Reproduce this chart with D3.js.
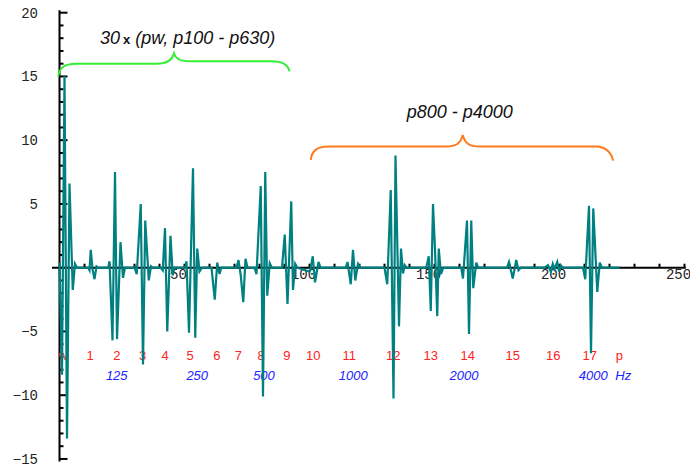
<!DOCTYPE html>
<html>
<head>
<meta charset="utf-8">
<script src="https://cdn.jsdelivr.net/npm/d3@7"></script>
<style>
  body { margin: 0; background: #fff; }
  svg { display: block; }
</style>
</head>
<body>
<div id="main"></div>
<script>
// axis labels
const yTickValues = [-15, -10, -5, 5, 10, 15, 20];
const xTickValues = [50, 100, 150, 200, 250];

// band numbers (red) and centre frequencies (blue), placed at x in sample units
const bandNames = ["w", "1", "2", "3", "4", "5", "6", "7", "8", "9", "10", "11", "12", "13", "14", "15", "16", "17", "p"];
const bandPos = [1.5, 12.2, 22.9, 33.2, 42.2, 52.2, 62.9, 71.5, 80.6, 90.9, 101.5, 115.9, 133.5, 148.5, 163.3, 181.3, 197.5, 212.1, 223.9];
const freqNames = ["125", "250", "500", "1000", "2000", "4000", "Hz"];
const freqPos = [22.9, 55.1, 81.8, 117.5, 161.8, 213.5, 225.5];

// the signal as [sample, value]
const signal = [
  [0, 0.4], [1, -8.4], [2, 15.1], [3, -13.4], [4, 6.6], [5.3, -1.75], [6.2, 0.3], [7, 0],
  [11.5, 0], [12, -0.2], [12.5, 1.4], [13.2, -0.1], [14, -0.9], [14.8, 0.1], [15.5, 0],
  [19.5, 0], [20, 0.5], [21.2, -5.7], [22.2, 7.5], [23, -5.6], [24.4, 2.0], [25.4, -0.8], [26.2, 0],
  [30, 0], [30.9, -0.5], [32.5, 5.0], [33.4, -7.6], [34.3, 3.7], [35.7, -1.0], [36.6, 0.1], [37.2, 0],
  [40.5, 0], [41.3, -0.2], [42.2, 3.1], [43.1, -5.0], [44.4, 2.5], [45.3, -0.6], [46, 0],
  [50.3, 0], [50.8, 0.5], [51.8, -5.1], [53.4, 7.8], [54.3, -5.5], [55.1, 1.5], [56, -0.3], [57, 0],
  [60.8, 0], [62.1, -2.5], [63.1, 0.4], [64, -0.5], [64.7, 0],
  [70.8, 0], [71.6, 0.6], [72.5, -0.6], [73.5, -2.7], [74.4, 0.7], [75.2, 0],
  [78, 0], [78.8, -0.5], [80.5, 6.4], [81.4, -10.1], [82.3, 7.5], [83.1, -2.2], [84.1, 0.35], [85, 0],
  [89, 0], [90.1, 2.6], [91.2, -2.85], [92.7, 5.2], [93.4, -1.75], [94.3, 0.3], [95.1, 0],
  [100, -0.3], [100.5, 0], [101.3, 0.9], [102.2, -1.15], [103.6, 0.45], [104.4, 0],
  [114.5, 0], [115.2, 0.45], [116.5, -1.3], [117.4, 1.4], [118.3, -1.0], [119.4, 0.3], [120.3, 0],
  [130, 0], [131.1, -1.3], [132.5, 6.1], [133.6, -10.25], [134.4, 8.8], [135.8, -4.6], [136.6, 1.5], [137.4, -0.45], [138.1, 0.2], [138.8, 0],
  [146.7, 0], [147.7, 0.9], [148.5, -3.4], [149.4, 5.0], [150.2, 1.4], [151.1, -3.8], [151.7, 1.5], [152.6, -0.5], [153.5, 0],
  [160.7, 0], [161.4, -0.85], [163, 3.7], [163.8, -5.2], [164.7, 3.7], [165.5, -1.6], [166.7, 0.4], [167.5, 0],
  [179, 0], [179.8, 0.45], [181.3, -0.85], [182.7, 0.6], [183.6, -0.2], [184.5, 0],
  [194, 0], [195.4, 0.2], [196.5, -0.3], [197.3, 0.3], [198, -0.1], [199.1, 0.45], [199.8, -0.3], [200.5, 0.2], [201.4, 0],
  [209.4, 0], [210.3, -0.9], [211.8, 4.85], [212.6, -6.7], [213.5, 4.65], [215.1, -1.9], [216.1, 0.4], [217, 0],
  [224, 0]
];

// brace annotations (sample units / values)
const braceLow = { text: "p100 - p630", x1: -0.5, xm: 45.8, x2: 92, e1: 15.0, b1: 16.0, tip: 16.8, b2: 16.2, e2: 15.4, color: "#33ee33" };
const braceHigh = { text: "p800 - p4000", x1: 100.5, xm: 161.3, x2: 221.5, e1: 8.45, b1: 9.5, tip: 10.4, b2: 9.5, e2: 8.4, color: "#ff7a1e" };

class Spectrum {
  constructor(config) {
    this.config = config;
    this.svg = d3.select(config.div).append("svg")
      .attr("width", config.width)
      .attr("height", config.height);

    this.xScale = d3.scaleLinear().domain([0, 250]).range([59.5, 684.5]);
    this.yScale = d3.scaleLinear().domain([-15, 20]).range([458.95, 12.7]);
  }

  renderAxes() {
    const x = this.xScale, y = this.yScale;
    const g = this.svg.append("g");

    // x axis
    g.append("line")
      .attr("x1", x(-3)).attr("x2", x(250.5))
      .attr("y1", y(0)).attr("y2", y(0))
      .attr("stroke", "#000").attr("stroke-width", 2);
    g.selectAll(".xtick")
      .data(d3.range(10, 251, 10))
      .join("line")
      .attr("x1", d => x(d)).attr("x2", d => x(d))
      .attr("y1", y(0)).attr("y2", y(0) - 4)
      .attr("stroke", "#000").attr("stroke-width", 2);
    g.selectAll(".xlab")
      .data(xTickValues)
      .join("text")
      .attr("x", d => x(d) - 6)
      .attr("y", y(0) + 11)
      .attr("text-anchor", "middle")
      .attr("font-family", "Liberation Mono, monospace")
      .attr("font-size", 14)
      .attr("fill", "#222")
      .text(d => d);

    // y axis
    g.append("line")
      .attr("x1", x(0)).attr("x2", x(0))
      .attr("y1", y(20.2)).attr("y2", y(-15.2))
      .attr("stroke", "#000").attr("stroke-width", 2);
    g.selectAll(".ytick")
      .data(d3.range(-15, 21, 1))
      .join("line")
      .attr("x1", x(0)).attr("x2", d => x(0) + (d % 5 === 0 ? 8 : 4))
      .attr("y1", d => y(d)).attr("y2", d => y(d))
      .attr("stroke", "#000").attr("stroke-width", 2);
    g.selectAll(".ylab")
      .data(yTickValues)
      .join("text")
      .attr("x", 38)
      .attr("y", d => y(d) + 5)
      .attr("text-anchor", "end")
      .attr("font-family", "Liberation Mono, monospace")
      .attr("font-size", 14)
      .attr("fill", "#222")
      .text(d => d < 0 ? "\u2212" + Math.abs(d) : d);
  }

  renderLabels() {
    const x = this.xScale;
    this.svg.append("g").selectAll("text")
      .data(bandNames)
      .join("text")
      .attr("x", (d, i) => x(bandPos[i]))
      .attr("y", 360)
      .attr("text-anchor", "middle")
      .attr("font-family", "Liberation Sans, Arial, sans-serif")
      .attr("font-size", 13)
      .attr("fill", "#ff2222")
      .text(d => d);

    this.svg.append("g").selectAll("text")
      .data(freqNames)
      .join("text")
      .attr("x", (d, i) => x(freqPos[i]))
      .attr("y", 380)
      .attr("text-anchor", "middle")
      .attr("font-family", "Liberation Sans, Arial, sans-serif")
      .attr("font-style", "italic")
      .attr("font-size", 13)
      .attr("fill", "#2222ff")
      .text(d => d);
  }

  renderSignal() {
    const line = d3.line()
      .x(d => this.xScale(d[0]))
      .y(d => this.yScale(d[1]));
    this.svg.append("path")
      .datum(signal)
      .attr("d", line)
      .attr("fill", "none")
      .attr("stroke", "#008080")
      .attr("stroke-width", 2.2)
      .attr("stroke-linejoin", "miter");
  }

  brace(b) {
    const x = this.xScale, y = this.yScale;
    const X1 = x(b.x1), XM = x(b.xm), X2 = x(b.x2);
    const E1 = y(b.e1), B1 = y(b.b1), T = y(b.tip), B2 = y(b.b2), E2 = y(b.e2);
    const p = d3.path();
    p.moveTo(X1, E1);
    p.bezierCurveTo(X1 + 1, B1 + 5, X1 + 5, B1, X1 + 18, B1);
    p.lineTo(XM - 17, B1);
    p.bezierCurveTo(XM - 7, B1, XM - 2, B1 - 3, XM, T);
    p.bezierCurveTo(XM + 2, (B1 + B2) / 2 - 3, XM + 7, B2, XM + 17, B2);
    p.lineTo(X2 - 18, B2);
    p.bezierCurveTo(X2 - 5, B2, X2 - 1, E2 - 5, X2, E2);
    this.svg.append("path")
      .attr("d", p.toString())
      .attr("fill", "none")
      .attr("stroke", b.color)
      .attr("stroke-width", 2);
  }

  renderBraces() {
    this.brace(braceLow);
    this.brace(braceHigh);

    const t1 = this.svg.append("text")
      .attr("x", 100).attr("y", 44)
      .attr("font-family", "Liberation Sans, Arial, sans-serif")
      .attr("font-size", 18)
      .attr("fill", "#111");
    t1.append("tspan").attr("font-style", "italic").text("30");
    t1.append("tspan").attr("font-weight", "bold").attr("font-size", 13).attr("dx", 3).text("x");
    t1.append("tspan").attr("font-style", "italic").attr("dx", 5).text("(pw, " + braceLow.text + ")");

    this.svg.append("text")
      .attr("x", this.xScale(braceHigh.xm) - 3).attr("y", 118)
      .attr("text-anchor", "middle")
      .attr("font-family", "Liberation Sans, Arial, sans-serif")
      .attr("font-style", "italic")
      .attr("font-size", 18)
      .attr("fill", "#111")
      .text(braceHigh.text);
  }
}

const chart = new Spectrum({ div: "#main", width: 690, height: 468 });
chart.renderAxes();
chart.renderLabels();
chart.renderSignal();
chart.renderBraces();
</script>
</body>
</html>
